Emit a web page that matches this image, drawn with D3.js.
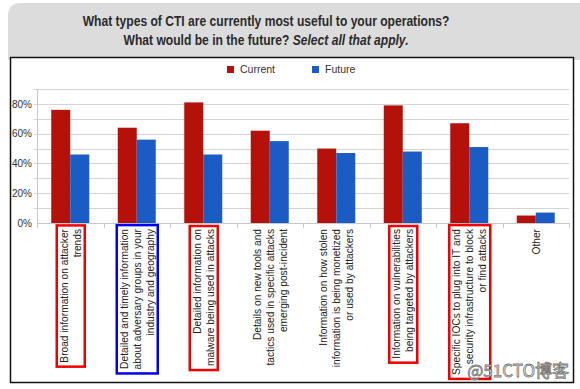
<!DOCTYPE html>
<html>
<head>
<meta charset="utf-8">
<script src="https://cdn.jsdelivr.net/npm/d3@7"></script>
<style>
  body { margin: 0; background: #fff; }
  svg { display: block; }
</style>
</head>
<body>
<svg id="chart" width="580" height="389"></svg>
<script>
// categories, each label already split in lines
var categories = [
    ["Broad information on attacker", "trends"],
    ["Detailed and timely information", "about adversary groups in your", "industry and geography"],
    ["Detailed information on", "malware being used in attacks"],
    ["Details on new tools and", "tactics used in specific attacks", "emerging post-incident"],
    ["Information on how stolen", "information is being monetized", "or used by attackers"],
    ["Information on vulnerabilities", "being targeted by attackers"],
    ["Specific IOCs to plug into IT and", "security infrastructure to block", "or find attacks"],
    ["Other"]
];
var seriesNames = ["Current", "Future"];
var currentValues = [76, 64, 81, 62, 50, 79, 67, 5];
var futureValues = [46, 56, 46, 55, 47, 48, 51, 7];
var yTicks = [0, 20, 40, 60, 80];
// hand drawn boxes round some labels
var highlight = ["red", "blue", "red", null, null, "red", "red", null];

var titleLine1 = "What types of CTI are currently most useful to your operations?";
var titleLine2a = "What would be in the future? ";
var titleLine2b = "Select all that apply.";

var colors = {Current: "#b5110b", Future: "#1a5bc4"};
var svg = d3.select("#chart");

// grey header with rounded corner
svg.append("path")
    .attr("d", "M8,60 L8,16 Q8,3 21,3 L580,3 L580,60 Z")
    .attr("fill", "#dcdcdc");

// title, squeezed a bit to look like the condensed original face
var titleX = 266, titleWidth = 367;
var tg1 = svg.append("g");
var tl1 = tg1.append("text")
    .attr("text-anchor", "middle")
    .attr("font-family", "'Liberation Sans', sans-serif")
    .attr("font-weight", "bold")
    .attr("font-size", 14.5)
    .attr("fill", "#2b2b2b")
    .text(titleLine1);
var squeeze = titleWidth / tl1.node().getComputedTextLength();
tg1.attr("transform", "translate(" + titleX + ",26) scale(" + squeeze + ",1)");
var tg2 = svg.append("g")
    .attr("transform", "translate(" + titleX + ",45) scale(" + squeeze + ",1)");
var tl2 = tg2.append("text")
    .attr("text-anchor", "middle")
    .attr("font-family", "'Liberation Sans', sans-serif")
    .attr("font-weight", "bold")
    .attr("font-size", 14.5)
    .attr("fill", "#2b2b2b");
tl2.append("tspan").text(titleLine2a);
tl2.append("tspan").attr("font-style", "italic").text(titleLine2b);

// chart frame
svg.append("rect")
    .attr("x", 10.5)
    .attr("y", 57.5)
    .attr("width", 563)
    .attr("height", 325)
    .attr("fill", "#fff")
    .attr("stroke", "#111")
    .attr("stroke-width", 1.5);

var plotLeft = 37, plotRight = 569, plotTop = 89, plotBottom = 223;

var x0 = d3.scaleBand()
    .domain(d3.range(categories.length))
    .range([plotLeft, plotRight])
    .padding(0);
var x1 = d3.scaleBand()
    .domain(seriesNames)
    .range([0, x0.bandwidth()])
    .paddingInner(0)
    .paddingOuter(0.75);
var y = d3.scaleLinear()
    .domain([0, 90])
    .range([plotBottom, plotTop]);

// gridlines every 10%
svg.append("g")
    .selectAll("line")
    .data(d3.range(10, 91, 10))
    .enter()
    .append("line")
    .attr("x1", plotLeft - 3)
    .attr("x2", plotRight)
    .attr("y1", function(d){ return Math.round(y(d)) + 0.5; })
    .attr("y2", function(d){ return Math.round(y(d)) + 0.5; })
    .attr("stroke", "#d4d4d4");

// y axis
var yAxis = d3.axisLeft(y)
    .tickValues(yTicks)
    .tickSize(0)
    .tickPadding(5)
    .tickFormat(function(d){ return d + "%"; });
var gy = svg.append("g")
    .attr("transform", "translate(" + plotLeft + ",0)")
    .call(yAxis);
gy.select(".domain").attr("stroke", "#c8c8c8").attr("d", "M0.5," + plotTop + "V" + plotBottom);
gy.selectAll("text")
    .attr("font-family", "'Liberation Sans', sans-serif")
    .attr("font-size", 10)
    .attr("fill", "#333");

// bars
var data = categories.map(function(c, i){
    return [{key: "Current", value: currentValues[i]}, {key: "Future", value: futureValues[i]}];
});
var groups = svg.append("g")
    .selectAll("g")
    .data(data)
    .enter()
    .append("g")
    .attr("transform", function(d, i){ return "translate(" + x0(i) + ",0)"; });
groups.selectAll("rect")
    .data(function(d){ return d; })
    .enter()
    .append("rect")
    .attr("x", function(d){ return x1(d.key); })
    .attr("y", function(d){ return y(d.value); })
    .attr("width", x1.bandwidth())
    .attr("height", function(d){ return plotBottom - y(d.value); })
    .attr("fill", function(d){ return colors[d.key]; });

// x axis with ticks at category boundaries
var xAxis = d3.axisBottom(x0).tickSize(0).tickFormat("");
var gx = svg.append("g")
    .attr("transform", "translate(0," + plotBottom + ")")
    .call(xAxis);
gx.select(".domain").attr("stroke", "#c8c8c8").attr("d", "M" + plotLeft + ",0.5H" + plotRight);
svg.append("g")
    .selectAll("line")
    .data(d3.range(categories.length + 1))
    .enter()
    .append("line")
    .attr("x1", function(i){ return Math.round(plotLeft + i * x0.step()) + 0.5; })
    .attr("x2", function(i){ return Math.round(plotLeft + i * x0.step()) + 0.5; })
    .attr("y1", plotBottom)
    .attr("y2", plotBottom + 5)
    .attr("stroke", "#c8c8c8");

// category labels, rotated
var lineGap = 13;
var labels = svg.append("g")
    .selectAll("g")
    .data(categories)
    .enter()
    .append("g")
    .attr("transform", function(d, i){
        return "translate(" + (x0(i) + x0.bandwidth() / 2) + "," + (plotBottom + 6) + ") rotate(-90)";
    });
labels.each(function(lines){
    var g = d3.select(this);
    var n = lines.length;
    lines.forEach(function(l, k){
        g.append("text")
            .attr("x", 0)
            .attr("y", (k - (n - 1) / 2) * lineGap + 4)
            .attr("text-anchor", "end")
            .attr("font-family", "'Liberation Sans', sans-serif")
            .attr("font-size", 10.2)
            .attr("fill", "#222")
            .text(l);
    });
});

// boxes round the highlighted labels
labels.each(function(lines, i){
    if(!highlight[i]) return;
    var b = this.getBBox();
    d3.select(this).insert("rect", ":first-child")
        .attr("x", b.x - 4)
        .attr("y", b.y - 2)
        .attr("width", b.width + 7)
        .attr("height", b.height + 4)
        .attr("fill", "none")
        .attr("stroke", highlight[i] == "red" ? "#f00000" : "#0000f0")
        .attr("stroke-width", 2.5);
});

// legend
var legend = svg.append("g")
    .selectAll("g")
    .data(seriesNames)
    .enter()
    .append("g")
    .attr("transform", function(d, i){ return "translate(" + (227 + i * 85) + ",66)"; });
legend.append("rect")
    .attr("width", 7)
    .attr("height", 7)
    .attr("fill", function(d){ return colors[d]; });
legend.append("text")
    .attr("x", 13)
    .attr("y", 7)
    .attr("font-family", "'Liberation Sans', sans-serif")
    .attr("font-size", 10.5)
    .attr("fill", "#333")
    .text(function(d){ return d; });

// watermark
svg.append("text")
    .attr("x", 569)
    .attr("y", 377)
    .attr("text-anchor", "end")
    .attr("font-family", "'Noto Sans CJK SC', sans-serif")
    .attr("font-size", 17)
    .attr("fill", "#f4f4f4")
    .attr("stroke", "#777")
    .attr("stroke-width", 0.8)
    .text("@51CTO博客");
</script>
</body>
</html>
